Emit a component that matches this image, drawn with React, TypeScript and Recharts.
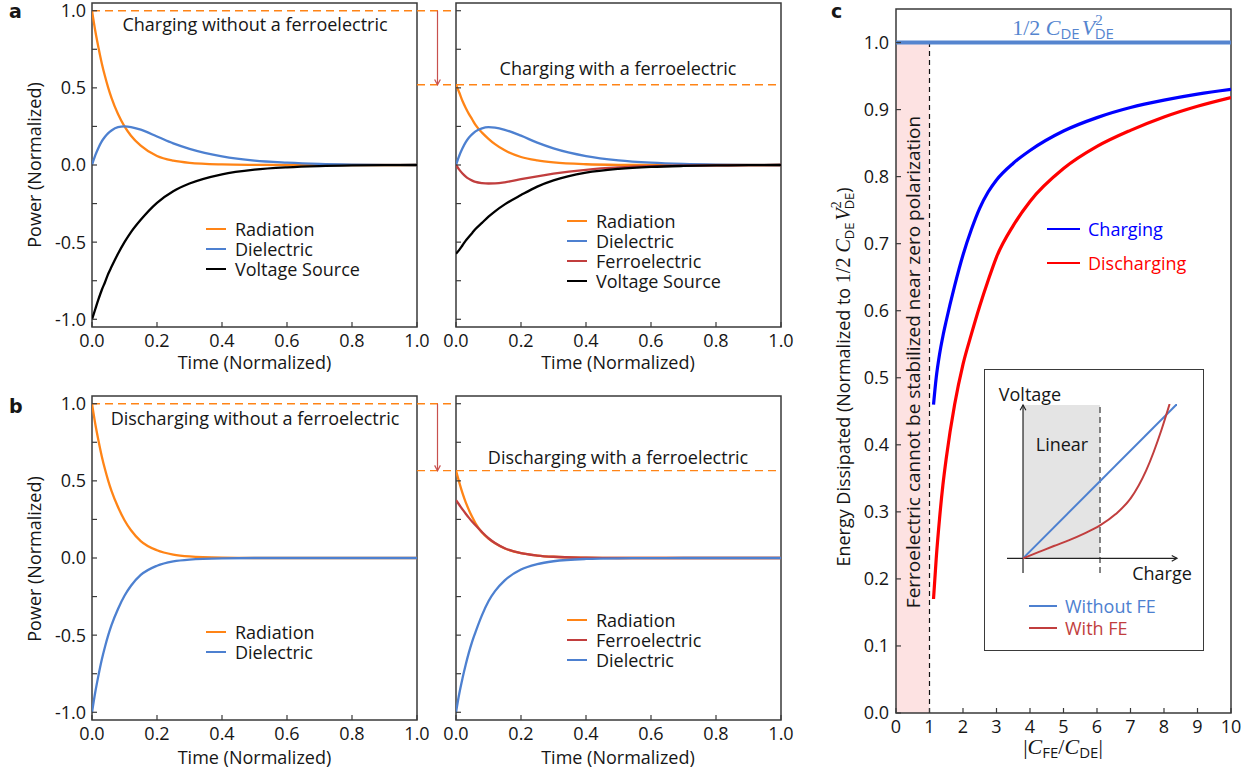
import React from "react";
import { LineChart, Line, XAxis, YAxis, ReferenceLine, ReferenceArea, Legend } from "recharts";

const FONT = "'Open Sans', Lato, sans-serif";
const MATH = "'Liberation Serif', 'DejaVu Serif', serif";
const FS = 18;
const INK = "#161616";
const FRAME = "#3a3a3a";
const ORANGE = "#ff8416";
const BLUE = "#4d80d0";
const RED = "#c13e3e";
const ARROW = "#c8504e";

// ---- panels a / b: power vs normalized time
const timeSteps = [0, 0.01, 0.02, 0.03, 0.04, 0.05, 0.06, 0.08, 0.1, 0.12, 0.15, 0.2, 0.25, 0.3, 0.4, 0.5, 0.6, 0.7, 0.8, 0.9, 1.0];

const chargeRadiation = [1.0, 0.87, 0.76, 0.66, 0.575, 0.5, 0.435, 0.33, 0.25, 0.19, 0.125, 0.058, 0.028, 0.014, 0.004, 0.001, 0, 0, 0, 0, 0];
const chargeDielectric = [0, 0.062, 0.112, 0.153, 0.183, 0.207, 0.224, 0.245, 0.25, 0.246, 0.229, 0.185, 0.14, 0.105, 0.056, 0.028, 0.015, 0.007, 0.003, 0.001, 0];
const chargeSource = [-1.0, -0.935, -0.87, -0.81, -0.76, -0.705, -0.66, -0.575, -0.5, -0.435, -0.355, -0.245, -0.17, -0.12, -0.06, -0.03, -0.015, -0.007, -0.003, -0.001, 0];

const chargeFeRadiation = [0.52, 0.47, 0.415, 0.37, 0.33, 0.295, 0.26, 0.21, 0.17, 0.135, 0.095, 0.052, 0.03, 0.017, 0.005, 0.001, 0, 0, 0, 0, 0];
const chargeFeDielectric = [0, 0.06, 0.108, 0.148, 0.178, 0.2, 0.218, 0.238, 0.245, 0.242, 0.228, 0.19, 0.145, 0.108, 0.058, 0.03, 0.015, 0.007, 0.003, 0.001, 0];
const chargeFeFerro = [0, -0.03, -0.055, -0.075, -0.09, -0.101, -0.109, -0.117, -0.12, -0.119, -0.112, -0.092, -0.073, -0.056, -0.031, -0.016, -0.008, -0.004, -0.002, -0.001, 0];
const chargeFeSource = [-0.575, -0.55, -0.52, -0.49, -0.465, -0.44, -0.415, -0.375, -0.335, -0.3, -0.255, -0.195, -0.14, -0.1, -0.05, -0.025, -0.012, -0.006, -0.003, -0.001, 0];

const dischargeRadiation = [1.0, 0.87, 0.76, 0.66, 0.575, 0.5, 0.435, 0.33, 0.245, 0.18, 0.11, 0.05, 0.022, 0.01, 0.002, 0, 0, 0, 0, 0, 0];
const dischargeDielectric = [-1.0, -0.87, -0.76, -0.66, -0.575, -0.5, -0.435, -0.33, -0.245, -0.18, -0.11, -0.05, -0.022, -0.01, -0.002, 0, 0, 0, 0, 0, 0];

const dischargeFeRadiation = [0.566, 0.49, 0.42, 0.36, 0.31, 0.265, 0.225, 0.165, 0.125, 0.095, 0.062, 0.031, 0.016, 0.008, 0.002, 0, 0, 0, 0, 0, 0];
const dischargeFeFerro = [0.375, 0.345, 0.315, 0.287, 0.26, 0.235, 0.212, 0.168, 0.128, 0.097, 0.063, 0.031, 0.016, 0.008, 0.002, 0, 0, 0, 0, 0, 0];
const dischargeFeDielectric = [-1.0, -0.88, -0.78, -0.69, -0.61, -0.54, -0.48, -0.37, -0.28, -0.215, -0.145, -0.075, -0.04, -0.021, -0.006, -0.002, -0.001, 0, 0, 0, 0];

// starting radiation level once a ferroelectric is added
const chargeFeLevel = 0.52;
const dischargeFeLevel = 0.566;

const powerTicks = [-1, -0.75, -0.5, -0.25, 0, 0.25, 0.5, 0.75, 1];
const timeTicks = [0, 0.2, 0.4, 0.6, 0.8, 1];

// ---- panel c: energy dissipated vs |C_FE / C_DE|
const capRatio = [1.12, 1.2, 1.3, 1.4, 1.5, 1.75, 2, 2.25, 2.5, 2.75, 3, 3.5, 4, 5, 6, 7, 8, 9, 10];
const energyCharging = [0.46, 0.5, 0.535, 0.562, 0.585, 0.637, 0.683, 0.721, 0.753, 0.777, 0.795, 0.82, 0.839, 0.868, 0.888, 0.903, 0.914, 0.923, 0.93];
const energyDischarging = [0.17, 0.23, 0.29, 0.34, 0.38, 0.46, 0.52, 0.565, 0.607, 0.645, 0.68, 0.727, 0.763, 0.812, 0.845, 0.869, 0.889, 0.905, 0.918];
const ratioTicks = [0, 1, 2, 3, 4, 5, 6, 7, 8, 9, 10];
const energyTicks = [0, 0.1, 0.2, 0.3, 0.4, 0.5, 0.6, 0.7, 0.8, 0.9, 1.0];

// inset: voltage vs charge
const insetChargeLinear = [0, 1];
const insetVoltageLinear = [0, 1];
const insetChargeFe = [0, 0.1, 0.2, 0.3, 0.4, 0.5, 0.6, 0.7, 0.8, 0.9, 0.952];
const insetVoltageFe = [0, 0.04, 0.08, 0.118, 0.162, 0.213, 0.285, 0.39, 0.57, 0.835, 1.0];

// layout: plot areas of the four power panels
const leftPlotX = 92;
const rightPlotX = 456;
const plotW = 325;
const gapEnd = (rightPlotX - leftPlotX) / plotW; // right panel's axis, in left panel's units
const arrowX = (437.5 - leftPlotX) / plotW;

const halfLabel = (v: number) => (Math.abs(v * 2 - Math.round(v * 2)) < 1e-6 ? v.toFixed(1) : null);

function YTick(props: any) {
  const { x, y, payload, gap, fmt } = props;
  const ax = x + gap;
  const label = fmt(payload.value);
  return (
    <g>
      <line x1={ax} x2={ax + 5} y1={y} y2={y} stroke={FRAME} strokeWidth={1.2} />
      {label !== null && (
        <text x={x} y={y} dy="0.36em" textAnchor="end" fontSize={FS} fontFamily={FONT} fill={INK}>
          {label}
        </text>
      )}
    </g>
  );
}

function XTick(props: any) {
  const { x, y, payload, gap, fmt } = props;
  const ay = y - gap;
  return (
    <g>
      <line x1={x} x2={x} y1={ay} y2={ay - 5} stroke={FRAME} strokeWidth={1.2} />
      <text x={x} y={y} dy="0.72em" textAnchor="middle" fontSize={FS} fontFamily={FONT} fill={INK}>
        {fmt(payload.value)}
      </text>
    </g>
  );
}

const arrowShape = (color: string, size: number) => (p: any) => {
  const { x1, y1, x2, y2 } = p;
  const ang = Math.atan2(y2 - y1, x2 - x1);
  const a1 = ang + Math.PI - 0.5;
  const a2 = ang + Math.PI + 0.5;
  return (
    <g>
      <line x1={x1} y1={y1} x2={x2} y2={y2} stroke={color} strokeWidth={1.2} />
      <polyline
        points={`${x2 + size * Math.cos(a1)},${y2 + size * Math.sin(a1)} ${x2},${y2} ${x2 + size * Math.cos(a2)},${y2 + size * Math.sin(a2)}`}
        fill="none"
        stroke={color}
        strokeWidth={1.2}
      />
    </g>
  );
};

const legendContent = (order: string[], rowH: number, lineW: number, gap: number, colored: boolean) => (props: any) => {
  const items = [...(props.payload || [])].sort((a: any, b: any) => order.indexOf(a.value) - order.indexOf(b.value));
  return (
    <div style={{ fontFamily: FONT, fontSize: FS, lineHeight: `${rowH}px` }}>
      {items.map((e: any) => (
        <div key={e.value} style={{ display: "flex", alignItems: "center", height: rowH, whiteSpace: "nowrap" }}>
          <span style={{ display: "inline-block", width: lineW, height: 2.5, background: e.color, marginRight: gap }} />
          <span style={{ color: colored ? e.color : INK }}>{e.value}</span>
        </div>
      ))}
    </div>
  );
};

type Series = { key: string; name: string; color: string; values: number[] };

const dash = { stroke: ORANGE, strokeWidth: 1.4, strokeDasharray: "8 5", ifOverflow: "visible" as const };

function powerChart(o: {
  left: number;
  top: number;
  padTop: number;
  width: number;
  yWidth: number;
  labels: boolean;
  series: Series[];
  legendLeft: number;
  legendTop: number;
  rowH: number;
  extra: React.ReactNode[];
}) {
  const data = timeSteps.map((t, i) => {
    const row: Record<string, number> = { t };
    o.series.forEach((s) => (row[s.key] = s.values[i]));
    return row;
  });
  return (
    <div style={{ position: "absolute", left: o.left, top: o.top }}>
      <LineChart
        width={o.width}
        height={372 + o.padTop}
        data={data}
        margin={{ top: o.padTop, right: o.width - o.yWidth - plotW, bottom: 0, left: 0 }}
      >
        <XAxis
          dataKey="t"
          type="number"
          domain={[0, 1]}
          ticks={timeTicks}
          interval={0}
          height={48}
          tickSize={0}
          tickMargin={7}
          tickLine={false}
          axisLine={false}
          allowDataOverflow
          tick={<XTick gap={7} fmt={(v: number) => v.toFixed(1)} />}
        />
        <YAxis
          type="number"
          domain={[-1.05, 1.05]}
          ticks={powerTicks}
          interval={0}
          width={o.yWidth}
          tickSize={0}
          tickMargin={6}
          tickLine={false}
          axisLine={false}
          allowDataOverflow
          tick={<YTick gap={6} fmt={o.labels ? halfLabel : () => null} />}
        />
        {o.extra}
        {o.series.map((s) => (
          <Line
            key={s.key}
            dataKey={s.key}
            name={s.name}
            stroke={s.color}
            strokeWidth={2.3}
            dot={false}
            type="monotone"
            isAnimationActive={false}
          />
        ))}
        <ReferenceArea x1={0} x2={1} y1={-1.05} y2={1.05} fill="none" stroke={FRAME} strokeWidth={1.5} ifOverflow="visible" />
        <Legend
          layout="vertical"
          align="center"
          verticalAlign="middle"
          wrapperStyle={{ left: o.legendLeft, top: o.legendTop, width: "auto" }}
          content={legendContent(o.series.map((s) => s.name), o.rowH, 20, 9, false)}
        />
      </LineChart>
    </div>
  );
}

export default function App() {
  const ratioData = capRatio.map((x, i) => ({ x, charging: energyCharging[i], discharging: energyDischarging[i] }));
  const insetLinear = insetChargeLinear.map((q, i) => ({ q, v: insetVoltageLinear[i] }));
  const insetFe = insetChargeFe.map((q, i) => ({ q, v: insetVoltageFe[i] }));

  return (
    <div style={{ position: "absolute", left: 0, top: 0, width: 1256, height: 774, background: "#fff", fontFamily: FONT }}>
      {powerChart({
        left: 0,
        top: 0,
        padTop: 3,
        width: 460,
        yWidth: leftPlotX,
        labels: true,
        legendLeft: 206,
        legendTop: 219,
        rowH: 20,
        series: [
          { key: "rad", name: "Radiation", color: ORANGE, values: chargeRadiation },
          { key: "die", name: "Dielectric", color: BLUE, values: chargeDielectric },
          { key: "src", name: "Voltage Source", color: "#000", values: chargeSource },
        ],
        extra: [
          <ReferenceLine key="d1" segment={[{ x: 0, y: 1 }, { x: gapEnd, y: 1 }]} {...dash} />,
          <ReferenceLine key="d2" segment={[{ x: 1, y: chargeFeLevel }, { x: gapEnd, y: chargeFeLevel }]} {...dash} />,
          <ReferenceLine
            key="ar"
            segment={[{ x: arrowX, y: 1 }, { x: arrowX, y: chargeFeLevel }]}
            ifOverflow="visible"
            stroke={ARROW}
            shape={arrowShape(ARROW, 6)}
          />,
        ],
      })}
      {powerChart({
        left: 440,
        top: 0,
        padTop: 3,
        width: 370,
        yWidth: rightPlotX - 440,
        labels: false,
        legendLeft: 127,
        legendTop: 211,
        rowH: 20,
        series: [
          { key: "rad", name: "Radiation", color: ORANGE, values: chargeFeRadiation },
          { key: "die", name: "Dielectric", color: BLUE, values: chargeFeDielectric },
          { key: "fe", name: "Ferroelectric", color: RED, values: chargeFeFerro },
          { key: "src", name: "Voltage Source", color: "#000", values: chargeFeSource },
        ],
        extra: [<ReferenceLine key="d3" y={chargeFeLevel} {...dash} />],
      })}
      {powerChart({
        left: 0,
        top: 383,
        padTop: 13,
        width: 460,
        yWidth: leftPlotX,
        labels: true,
        legendLeft: 206,
        legendTop: 239,
        rowH: 20,
        series: [
          { key: "rad", name: "Radiation", color: ORANGE, values: dischargeRadiation },
          { key: "die", name: "Dielectric", color: BLUE, values: dischargeDielectric },
        ],
        extra: [
          <ReferenceLine key="d1" segment={[{ x: 0, y: 1 }, { x: gapEnd, y: 1 }]} {...dash} />,
          <ReferenceLine key="d2" segment={[{ x: 1, y: dischargeFeLevel }, { x: gapEnd, y: dischargeFeLevel }]} {...dash} />,
          <ReferenceLine
            key="ar"
            segment={[{ x: arrowX, y: 1 }, { x: arrowX, y: dischargeFeLevel }]}
            ifOverflow="visible"
            stroke={ARROW}
            shape={arrowShape(ARROW, 6)}
          />,
        ],
      })}
      {powerChart({
        left: 440,
        top: 383,
        padTop: 13,
        width: 370,
        yWidth: rightPlotX - 440,
        labels: false,
        legendLeft: 127,
        legendTop: 227,
        rowH: 20,
        series: [
          { key: "rad", name: "Radiation", color: ORANGE, values: dischargeFeRadiation },
          { key: "fe", name: "Ferroelectric", color: RED, values: dischargeFeFerro },
          { key: "die", name: "Dielectric", color: BLUE, values: dischargeFeDielectric },
        ],
        extra: [<ReferenceLine key="d3" y={dischargeFeLevel} {...dash} />],
      })}

      <div style={{ position: "absolute", left: 850, top: 0 }}>
        <LineChart width={406} height={773} data={ratioData} margin={{ top: 9, right: 25, bottom: 0, left: 0 }}>
          <XAxis
            dataKey="x"
            type="number"
            domain={[0, 10]}
            ticks={ratioTicks}
            interval={0}
            height={60}
            tickSize={0}
            tickMargin={7}
            tickLine={false}
            axisLine={false}
            allowDataOverflow
            tick={<XTick gap={7} fmt={(v: number) => String(v)} />}
          />
          <YAxis
            type="number"
            domain={[0, 1.05]}
            ticks={energyTicks}
            interval={0}
            width={46}
            tickSize={0}
            tickMargin={7}
            tickLine={false}
            axisLine={false}
            allowDataOverflow
            tick={<YTick gap={7} fmt={(v: number) => v.toFixed(1)} />}
          />
          <ReferenceArea x1={0} x2={1} y1={0} y2={1} fill="#fde2e2" fillOpacity={1} stroke="none" />
          <ReferenceLine segment={[{ x: 1, y: 0 }, { x: 1, y: 1 }]} stroke="#111" strokeDasharray="5 4" strokeWidth={1.2} />
          <ReferenceLine y={1} stroke="#5585cf" strokeWidth={4} />
          <Line dataKey="charging" name="Charging" stroke="#0000ff" strokeWidth={3.2} dot={false} type="monotone" isAnimationActive={false} />
          <Line dataKey="discharging" name="Discharging" stroke="#ff0000" strokeWidth={3.2} dot={false} type="monotone" isAnimationActive={false} />
          <ReferenceArea x1={0} x2={10} y1={0} y2={1.05} fill="none" stroke={FRAME} strokeWidth={1.5} ifOverflow="visible" />
          <Legend
            layout="vertical"
            align="center"
            verticalAlign="middle"
            wrapperStyle={{ left: 197, top: 212, width: "auto" }}
            content={legendContent(["Charging", "Discharging"], 34, 33, 8, true)}
          />
        </LineChart>
      </div>

      <div
        style={{
          position: "absolute",
          left: 984,
          top: 369,
          width: 220,
          height: 282,
          border: `1.5px solid ${FRAME}`,
          boxSizing: "border-box",
          background: "#fff",
        }}
      />
      <div style={{ position: "absolute", left: 984, top: 369 }}>
        <LineChart width={220} height={282} margin={{ top: 35, right: 27, bottom: 78, left: 23 }}>
          <XAxis hide dataKey="q" type="number" domain={[-0.104, 1]} allowDataOverflow />
          <YAxis hide type="number" domain={[-0.095, 1]} allowDataOverflow />
          <ReferenceArea x1={0} x2={0.5} y1={0} y2={0.994} fill="#e4e4e4" fillOpacity={1} stroke="none" />
          <ReferenceLine segment={[{ x: 0.5, y: -0.095 }, { x: 0.5, y: 0.994 }]} stroke="#444" strokeDasharray="6 4" strokeWidth={1.3} />
          <ReferenceLine segment={[{ x: -0.104, y: 0 }, { x: 1, y: 0 }]} stroke="#222" shape={arrowShape("#222", 6)} />
          <ReferenceLine segment={[{ x: 0, y: -0.095 }, { x: 0, y: 0.994 }]} stroke="#222" shape={arrowShape("#222", 6)} />
          <Line data={insetLinear} dataKey="v" name="Without FE" stroke={BLUE} strokeWidth={2} dot={false} type="linear" isAnimationActive={false} />
          <Line data={insetFe} dataKey="v" name="With FE" stroke={RED} strokeWidth={2} dot={false} type="monotone" isAnimationActive={false} />
          <Legend
            layout="vertical"
            align="center"
            verticalAlign="middle"
            wrapperStyle={{ left: 45, top: 226, width: "auto" }}
            content={legendContent(["Without FE", "With FE"], 22, 28, 8, true)}
          />
        </LineChart>
      </div>

      <svg width={1256} height={774} style={{ position: "absolute", left: 0, top: 0, pointerEvents: "none" }} fontFamily={FONT} fill={INK}>
        <g fontFamily="'DejaVu Sans', sans-serif" fontSize={19} fontWeight="bold">
          <text x={9} y={18}>a</text>
          <text x={9} y={413}>b</text>
          <text x={831} y={18}>c</text>
        </g>

        <text x={255} y={31} fontSize={FS} textAnchor="middle">Charging without a ferroelectric</text>
        <text x={618} y={75} fontSize={FS} textAnchor="middle">Charging with a ferroelectric</text>
        <text x={255} y={425} fontSize={FS} textAnchor="middle">Discharging without a ferroelectric</text>
        <text x={618} y={464} fontSize={FS} textAnchor="middle">Discharging with a ferroelectric</text>

        <text x={41} y={165} fontSize={FS} textAnchor="middle" transform="rotate(-90 41 165)">Power (Normalized)</text>
        <text x={41} y={559} fontSize={FS} textAnchor="middle" transform="rotate(-90 41 559)">Power (Normalized)</text>
        <text x={254.5} y={369} fontSize={FS} textAnchor="middle">Time (Normalized)</text>
        <text x={618} y={369} fontSize={FS} textAnchor="middle">Time (Normalized)</text>
        <text x={254.5} y={764} fontSize={FS} textAnchor="middle">Time (Normalized)</text>
        <text x={618} y={764} fontSize={FS} textAnchor="middle">Time (Normalized)</text>

        <text x={1063} y={35} fontSize={22} textAnchor="middle" fill="#5585cf">
          <tspan fontFamily={MATH}>1/2 </tspan>
          <tspan fontFamily={MATH} fontStyle="italic">C</tspan>
          <tspan fontSize={15} dy={4}>DE</tspan>
          <tspan fontFamily={MATH} fontStyle="italic" dy={-4} dx={2}>V</tspan>
          <tspan fontFamily={MATH} fontSize={15} dy={-10}>2</tspan>
          <tspan fontSize={15} dx={-8} dy={14}>DE</tspan>
        </text>

        <text x={920} y={362} fontSize={19} textAnchor="middle" transform="rotate(-90 920 362)">
          Ferroelectric cannot be stabilized near zero polarization
        </text>

        <text x={850} y={377} fontSize={FS} textAnchor="middle" transform="rotate(-90 850 377)">
          Energy Dissipated (Normalized to{" "}
          <tspan fontFamily={MATH} fontSize={20}>1/2 </tspan>
          <tspan fontFamily={MATH} fontSize={20} fontStyle="italic">C</tspan>
          <tspan fontSize={13} dy={4}>DE</tspan>
          <tspan fontFamily={MATH} fontSize={20} fontStyle="italic" dy={-4} dx={2}>V</tspan>
          <tspan fontFamily={MATH} fontSize={14} dy={-9}>2</tspan>
          <tspan fontSize={13} dx={-8} dy={13}>DE</tspan>
          <tspan dy={-4}>)</tspan>
        </text>

        <text x={1063} y={754} fontSize={22} textAnchor="middle">
          <tspan fontFamily={MATH}>|</tspan>
          <tspan fontFamily={MATH} fontStyle="italic">C</tspan>
          <tspan fontSize={15} dy={4}>FE</tspan>
          <tspan fontFamily={MATH} dy={-4}>/</tspan>
          <tspan fontFamily={MATH} fontStyle="italic">C</tspan>
          <tspan fontSize={15} dy={4}>DE</tspan>
          <tspan fontFamily={MATH} dy={-4}>|</tspan>
        </text>

        <text x={1030} y={401} fontSize={FS} textAnchor="middle">Voltage</text>
        <text x={1062} y={451} fontSize={FS} textAnchor="middle">Linear</text>
        <text x={1162} y={580} fontSize={FS} textAnchor="middle">Charge</text>
      </svg>
    </div>
  );
}
